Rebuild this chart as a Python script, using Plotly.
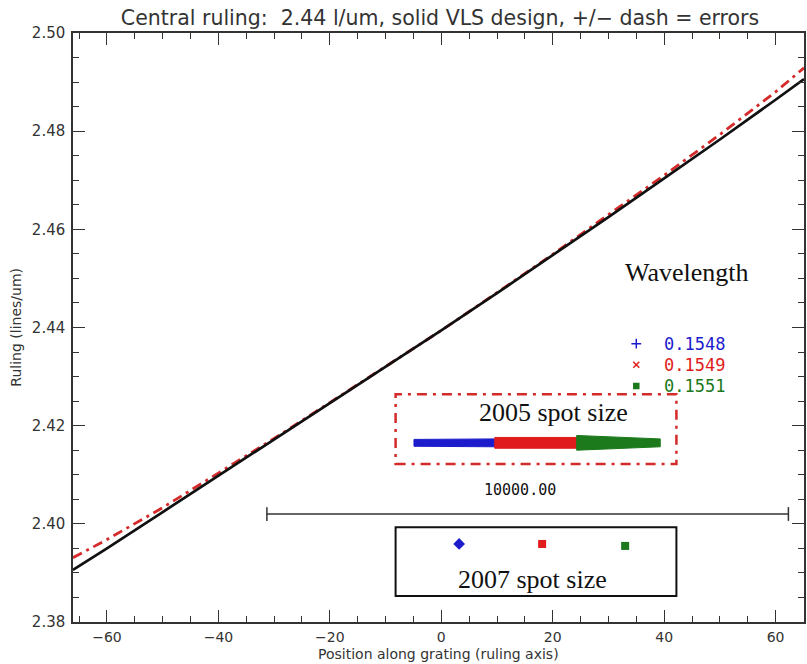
import plotly.graph_objects as go

# ---- data ----
position = [-66.1, -60, -50, -40, -30, -20, -10, 0, 10, 20, 30, 40, 50, 60, 65.1]
ruling_design = [2.3906, 2.3950, 2.4024, 2.4098, 2.4171, 2.4245, 2.4319, 2.4394,
                 2.4470, 2.4547, 2.4625, 2.4704, 2.4783, 2.4864, 2.4906]
ruling_error = [2.3931, 2.3968, 2.4033, 2.4104, 2.4174, 2.4247, 2.4320, 2.4394,
                2.4471, 2.4549, 2.4630, 2.4710, 2.4793, 2.4880, 2.4929]

wavelengths = ["0.1548", "0.1549", "0.1551"]
wl_colors = ["#1c1ccc", "#e01c1c", "#1c7a1c"]
wl_symbols = ["cross-thin", "x-thin", "square"]

# 2005 spot extents along the scale (start, end, half-thickness at start, at end)
spot2005_start = [-4.9, 9.6, 24.3]
spot2005_end = [9.6, 24.3, 39.3]
spot2005_half_a = [0.0007, 0.0011, 0.0015]
spot2005_half_b = [0.0008, 0.0011, 0.0008]
spot2005_y = 2.4165

# 2007 spot centres
spot2007_x = [3.2, 18.1, 33.0]
spot2007_y = [2.3959, 2.3959, 2.3955]

scale_bar_x = [-31.3, 62.3]
scale_bar_y = 2.4020
scale_label = "10000.00"

x_range = [-66.1, 65.1]
y_range = [2.38, 2.50]

fig = go.Figure()

# design (solid) and errors (dash-dot)
fig.add_trace(go.Scatter(x=position, y=ruling_error, mode="lines",
                         line=dict(color="#d42a2a", width=2.8, dash="10px,5px,3px,5px"),
                         showlegend=False, hoverinfo="skip"))
fig.add_trace(go.Scatter(x=position, y=ruling_design, mode="lines",
                         line=dict(color="#111111", width=2.7),
                         showlegend=False, hoverinfo="skip"))

# 2005 spots as filled shapes
for i in range(3):
    xs = [spot2005_start[i], spot2005_end[i], spot2005_end[i], spot2005_start[i], spot2005_start[i]]
    ys = [spot2005_y - spot2005_half_a[i], spot2005_y - spot2005_half_b[i],
          spot2005_y + spot2005_half_b[i], spot2005_y + spot2005_half_a[i],
          spot2005_y - spot2005_half_a[i]]
    fig.add_trace(go.Scatter(x=xs, y=ys, mode="lines", fill="toself",
                             fillcolor=wl_colors[i], line=dict(color=wl_colors[i], width=1),
                             showlegend=False, hoverinfo="skip"))

# 2007 spots
for i in range(3):
    fig.add_trace(go.Scatter(x=[spot2007_x[i]], y=[spot2007_y[i]], mode="markers",
                             marker=dict(color=wl_colors[i], size=[9, 8, 8][i],
                                         symbol=["diamond", "square", "square"][i]),
                             showlegend=False, hoverinfo="skip"))

# legend symbols
leg_x = 35.0
leg_y = [2.4367, 2.4324, 2.4281]
for i in range(3):
    fig.add_trace(go.Scatter(x=[leg_x], y=[leg_y[i]], mode="markers",
                             marker=dict(color=wl_colors[i], size=[7, 6, 5][i],
                                         symbol=wl_symbols[i],
                                         line=dict(color=wl_colors[i], width=1.5)),
                             showlegend=False, hoverinfo="skip"))
    fig.add_annotation(x=39.6, y=leg_y[i], text=wavelengths[i], showarrow=False,
                       xanchor="left", yanchor="middle",
                       font=dict(family="DejaVu Sans Mono", size=17, color=wl_colors[i]))

fig.add_annotation(x=44.1, y=2.4512, text="Wavelength", showarrow=False,
                   font=dict(family="Liberation Serif", size=26, color="#111"))

# 2005 box
fig.add_shape(type="rect", x0=-8.2, x1=42.2, y0=2.4122, y1=2.4264,
              line=dict(color="#d42a2a", width=2.5, dash="10px,6px,3px,6px"))
fig.add_annotation(x=20.1, y=2.4226, text="2005 spot size", showarrow=False,
                   font=dict(family="Liberation Serif", size=26, color="#111"))

# scale bar
fig.add_trace(go.Scatter(x=scale_bar_x, y=[scale_bar_y, scale_bar_y], mode="lines",
                         line=dict(color="#333", width=1.5), showlegend=False, hoverinfo="skip"))
for xb in scale_bar_x:
    fig.add_shape(type="line", x0=xb, x1=xb, y0=scale_bar_y - 0.0014, y1=scale_bar_y + 0.0014,
                  line=dict(color="#333", width=1.5))
fig.add_annotation(x=14.2, y=2.4068, text=scale_label,
                   showarrow=False, font=dict(family="DejaVu Sans Mono", size=15, color="#111"))

# 2007 box
fig.add_shape(type="rect", x0=-8.2, x1=42.2, y0=2.3853, y1=2.3993,
              line=dict(color="#111", width=2))
fig.add_annotation(x=16.4, y=2.3886, text="2007 spot size", showarrow=False,
                   font=dict(family="Liberation Serif", size=26, color="#111"))

# axis titles
fig.add_annotation(xref="paper", yref="paper", x=0.5, y=(622 - 654) / 589,
                   xanchor="center", yanchor="middle",
                   text="Position along grating (ruling axis)", showarrow=False,
                   font=dict(family="DejaVu Sans", size=14, color="#333"))
fig.add_annotation(xref="paper", yref="paper", x=(15 - 73) / 733, y=0.5, textangle=-90,
                   xanchor="center", yanchor="middle",
                   text="Ruling (lines/um)", showarrow=False,
                   font=dict(family="DejaVu Sans", size=14, color="#333"))

axis_common = dict(showgrid=False, zeroline=False, showline=True, linecolor="#333",
                   linewidth=1.5, mirror="ticks", ticks="inside", tickcolor="#333",
                   tickwidth=1.3, ticklen=12)

fig.update_layout(
    width=807, height=664,
    margin=dict(l=73, r=1, t=33, b=42),
    paper_bgcolor="white", plot_bgcolor="white",
    title=dict(text="Central ruling:  2.44 l/um, solid VLS design, +/− dash = errors",
               x=(440) / 807, xanchor="center", y=1 - 18 / 664, yanchor="middle",
               font=dict(family="DejaVu Sans", size=20.5, color="#333")),
    xaxis=dict(range=x_range, dtick=20, tick0=0, ticklabelstandoff=1,
               tickfont=dict(family="DejaVu Sans", size=14, color="#333"),
               minor=dict(ticks="inside", dtick=5, ticklen=6, tickcolor="#333", tickwidth=1.3),
               **axis_common),
    yaxis=dict(range=y_range, dtick=0.02, tick0=2.40, tickformat=".2f", ticklabelstandoff=3,
               tickfont=dict(family="DejaVu Sans", size=15, color="#333"),
               minor=dict(ticks="inside", dtick=0.005, ticklen=6, tickcolor="#333", tickwidth=1.3),
               **axis_common),
)

fig.write_html("out.html", config={"displayModeBar": False},
               post_script="document.body.style.margin='0px';document.body.style.overflow='hidden';")
